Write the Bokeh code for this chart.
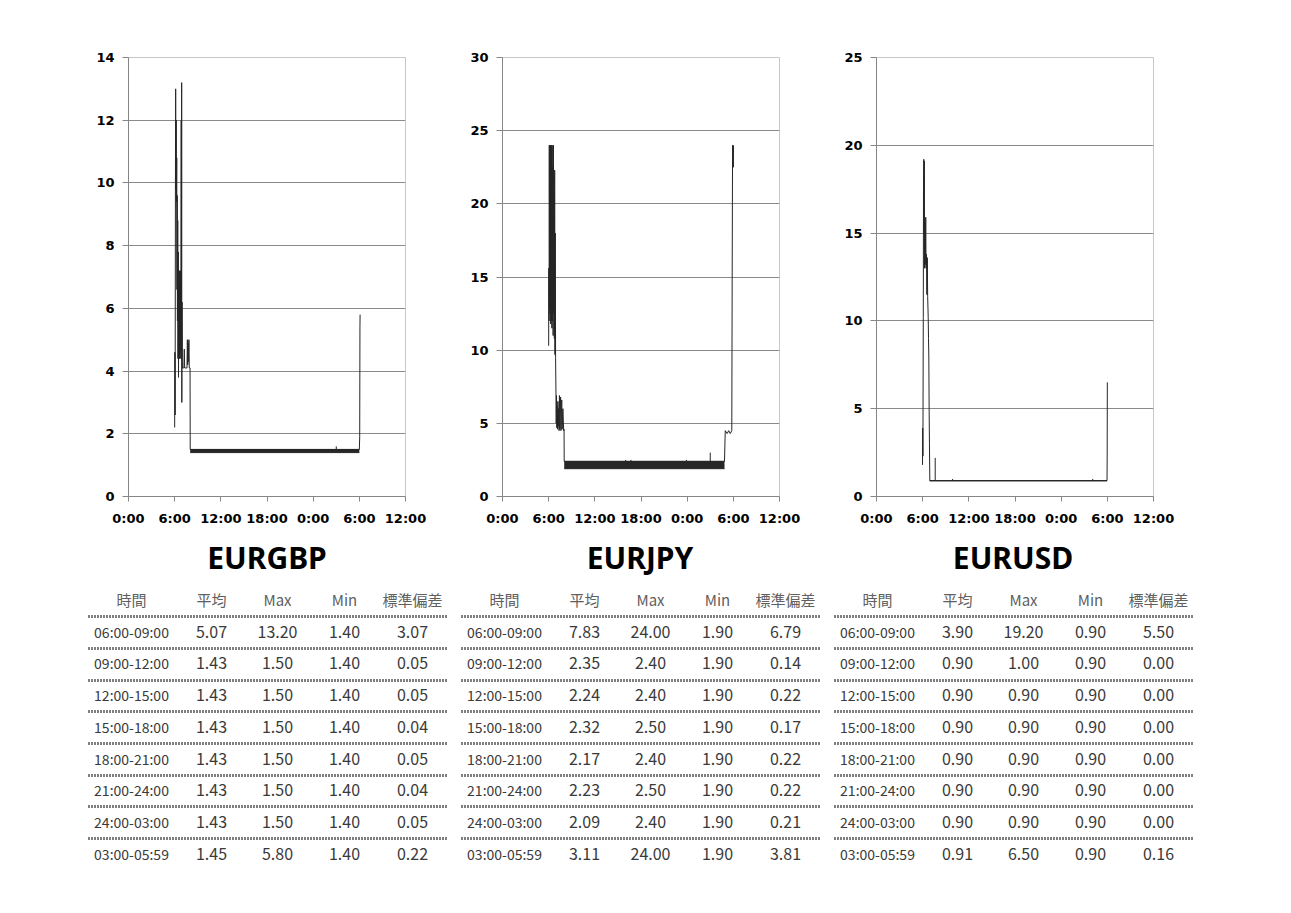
from bokeh.plotting import figure
from bokeh.layouts import column, row
from bokeh.models import Range1d, FixedTicker
from bokeh.core.properties import value
from bokeh.embed import file_html
from bokeh.resources import INLINE

# ---------------- data ----------------
pairs = ["EURGBP", "EURJPY", "EURUSD"]
x_tick_hours = [0, 6, 12, 18, 24, 30, 36]
x_tick_labels = ["0:00", "6:00", "12:00", "18:00", "0:00", "6:00", "12:00"]

gbp_ymax = 14
gbp_yticks = [0, 2, 4, 6, 8, 10, 12, 14]
gbp_t = [6.00, 6.03, 6.06, 6.10, 6.13, 6.16, 6.20, 6.23, 6.27, 6.30,
         6.33, 6.36, 6.40, 6.43, 6.47, 6.50, 6.53, 6.57, 6.60, 6.63,
         6.67, 6.70, 6.75, 6.80, 6.85, 6.88, 6.91, 6.93, 6.96, 7.00,
         7.20, 7.25, 7.30, 7.60, 7.65, 7.70, 7.75, 7.80, 7.85, 7.90,
         8.00, 8.02, 30.00, 30.05, 30.08, 30.10]
gbp_v = [2.2, 4.6, 2.6, 10.0, 13.0, 9.8, 12.0, 9.4, 10.8, 6.6,
         9.6, 5.6, 8.8, 4.4, 7.8, 3.8, 7.2, 4.4, 7.2, 4.4,
         6.8, 4.6, 7.2, 4.4, 12.0, 4.4, 13.2, 3.0, 6.2, 4.1,
         4.1, 4.7, 4.1, 4.1, 5.0, 4.2, 4.9, 4.3, 5.0, 4.1,
         4.1, 1.5, 1.5, 1.9, 5.4, 5.8]
gbp_band_t = [8.02, 30.00]
gbp_band_lo = [1.4, 1.4]
gbp_band_hi = [1.5, 1.5]
gbp_spike_t = [27.0]
gbp_spike_v = [1.6]

jpy_ymax = 30
jpy_yticks = [0, 5, 10, 15, 20, 25, 30]
jpy_t = [6.00, 6.02, 6.05, 6.08, 6.12, 6.15, 6.18, 6.22, 6.26, 6.30,
         6.34, 6.38, 6.42, 6.46, 6.50, 6.54, 6.58, 6.62, 6.66, 6.70,
         6.74, 6.78, 6.82, 6.86, 6.90, 6.95, 6.98, 7.02, 7.06, 7.10,
         7.15, 7.20, 7.25, 7.30, 7.35, 7.40, 7.45, 7.55, 7.60, 7.70,
         7.75, 7.85, 7.95, 8.00, 8.02, 28.85, 28.95, 29.20, 29.40, 29.60,
         29.80, 29.85, 29.90, 30.00, 30.03]
jpy_v = [10.3, 15.6, 12.0, 24.0, 13.0, 24.0, 12.5, 24.0, 11.8, 24.0,
         12.0, 24.0, 11.5, 22.5, 12.0, 24.0, 11.0, 24.0, 12.5, 20.5,
         10.8, 22.3, 9.7, 18.0, 9.5, 7.0, 5.0, 6.9, 4.7, 6.2,
         4.6, 6.5, 4.8, 6.0, 4.5, 6.9, 4.6, 6.8, 4.5, 6.6,
         4.6, 6.0, 4.5, 4.6, 2.4, 2.4, 4.5, 4.3, 4.5, 4.3,
         4.5, 15.0, 24.0, 22.5, 24.0]
jpy_band_t = [8.02, 28.85]
jpy_band_lo = [1.9, 1.9]
jpy_band_hi = [2.4, 2.4]
jpy_spike_t = [16.0, 16.7, 23.9, 27.0]
jpy_spike_v = [2.5, 2.5, 2.5, 3.0]

usd_ymax = 25
usd_yticks = [0, 5, 10, 15, 20, 25]
usd_t = [5.98, 6.00, 6.03, 6.08, 6.11, 6.15, 6.18, 6.21, 6.24, 6.30,
         6.34, 6.40, 6.44, 6.50, 6.55, 6.60, 6.65, 6.72, 6.76, 6.80,
         6.84, 6.88, 6.93, 29.96, 29.98, 30.00]
usd_v = [1.8, 3.9, 2.3, 10.2, 17.7, 19.2, 15.0, 19.1, 13.0, 15.6,
         13.2, 15.9, 13.0, 13.8, 11.5, 13.6, 11.4, 10.2, 9.0, 8.0,
         5.0, 3.0, 0.9, 0.9, 2.3, 6.5]
usd_band_t = [6.93, 29.96]
usd_band_lo = [0.9, 0.9]
usd_band_hi = [0.9, 0.9]
usd_spike_t = [7.63, 9.89, 28.1]
usd_spike_v = [2.2, 1.0, 1.0]

table_headers = ["時間", "平均", "Max", "Min", "標準偏差"]
periods = ["06:00-09:00", "09:00-12:00", "12:00-15:00", "15:00-18:00",
           "18:00-21:00", "21:00-24:00", "24:00-03:00", "03:00-05:59"]
gbp_avg = [5.07, 1.43, 1.43, 1.43, 1.43, 1.43, 1.43, 1.45]
gbp_max = [13.20, 1.50, 1.50, 1.50, 1.50, 1.50, 1.50, 5.80]
gbp_min = [1.40, 1.40, 1.40, 1.40, 1.40, 1.40, 1.40, 1.40]
gbp_std = [3.07, 0.05, 0.05, 0.04, 0.05, 0.04, 0.05, 0.22]
jpy_avg = [7.83, 2.35, 2.24, 2.32, 2.17, 2.23, 2.09, 3.11]
jpy_max = [24.00, 2.40, 2.40, 2.50, 2.40, 2.50, 2.40, 24.00]
jpy_min = [1.90, 1.90, 1.90, 1.90, 1.90, 1.90, 1.90, 1.90]
jpy_std = [6.79, 0.14, 0.22, 0.17, 0.22, 0.22, 0.21, 3.81]
usd_avg = [3.90, 0.90, 0.90, 0.90, 0.90, 0.90, 0.90, 0.91]
usd_max = [19.20, 1.00, 0.90, 0.90, 0.90, 0.90, 0.90, 6.50]
usd_min = [0.90, 0.90, 0.90, 0.90, 0.90, 0.90, 0.90, 0.90]
usd_std = [5.50, 0.00, 0.00, 0.00, 0.00, 0.00, 0.00, 0.16]

# ---------------- style ----------------
LINE = "#262626"
AXIS = "#868686"
GRID = "#8a8a8a"
BORDER = "#c8c8c8"
TICK_FONT = "DejaVu Sans"
JP_FONT = "Noto Sans CJK JP"


def chart(t, v, band_t, band_lo, band_hi, spike_t, spike_v, ymax, yticks,
          width, left, right):
    p = figure(width=width, height=535, output_backend="svg",
               toolbar_location=None, x_range=Range1d(0, 36),
               y_range=Range1d(0, ymax),
               min_border_left=left, min_border_right=right,
               min_border_top=57, min_border_bottom=39)
    p.outline_line_color = BORDER
    p.background_fill_color = "white"
    p.xgrid.grid_line_color = None
    p.ygrid.ticker = FixedTicker(ticks=yticks[1:-1])
    p.ygrid.grid_line_color = GRID
    p.ygrid.grid_line_width = 1

    p.xaxis.ticker = FixedTicker(ticks=x_tick_hours)
    p.xaxis.major_label_overrides = {h: lab for h, lab in zip(x_tick_hours, x_tick_labels)}
    p.yaxis.ticker = FixedTicker(ticks=yticks)
    for ax in (p.xaxis[0], p.yaxis[0]):
        ax.axis_line_color = AXIS
        ax.major_tick_line_color = AXIS
        ax.major_tick_in = 0
        ax.minor_tick_line_color = None
        ax.major_label_text_font = TICK_FONT
        ax.major_label_text_font_style = "bold"
        ax.major_label_text_font_size = "13px"
        ax.major_label_text_color = "#000000"
    p.xaxis.major_tick_out = 5
    p.xaxis.major_label_standoff = 9
    p.yaxis.major_tick_out = 6
    p.yaxis.major_label_standoff = 8

    p.varea(x=band_t, y1=band_lo, y2=band_hi, fill_color=LINE)
    p.line(band_t, band_lo, line_color=LINE, line_width=1)
    p.line(band_t, band_hi, line_color=LINE, line_width=1)
    p.segment(x0=spike_t, y0=[band_hi[0]] * len(spike_t), x1=spike_t, y1=spike_v,
              line_color=LINE, line_width=1)
    p.line(t, v, line_color=LINE, line_width=1)
    return p


f1 = chart(gbp_t, gbp_v, gbp_band_t, gbp_band_lo, gbp_band_hi, gbp_spike_t, gbp_spike_v,
           gbp_ymax, gbp_yticks, 440, 128, 35)
f2 = chart(jpy_t, jpy_v, jpy_band_t, jpy_band_lo, jpy_band_hi, jpy_spike_t, jpy_spike_v,
           jpy_ymax, jpy_yticks, 374, 62, 35)
f3 = chart(usd_t, usd_v, usd_band_t, usd_band_lo, usd_band_hi, usd_spike_t, usd_spike_v,
           usd_ymax, usd_yticks, 374, 62, 35)

# ---------------- tables (page pixel coordinates) ----------------
tb = figure(width=1283, height=360, output_backend="svg", toolbar_location=None,
            x_range=Range1d(0, 1283), y_range=Range1d(895, 535),
            x_axis_type=None, y_axis_type=None,
            min_border=0, min_border_left=0, min_border_right=0,
            min_border_top=0, min_border_bottom=0)
tb.outline_line_color = None
tb.xgrid.grid_line_color = None
tb.ygrid.grid_line_color = None

table_base_x = [131, 504, 877]
col_offsets = [0, 80, 146, 213, 281]
header_y = 599
row_y0 = 631
row_gap = 31.75
sep_y0 = 616
title_y = 557

stats = [(gbp_avg, gbp_max, gbp_min, gbp_std),
         (jpy_avg, jpy_max, jpy_min, jpy_std),
         (usd_avg, usd_max, usd_min, usd_std)]

title_x = [bx + 135.5 for bx in table_base_x]
tb.text(x=title_x, y=[title_y] * 3, text=pairs, text_font=value("Noto Sans"),
        text_font_style="bold", text_font_size="30px", text_align="center",
        text_baseline="alphabetic", text_color="#000000")

hx, hy, ht = [], [], []
px, py, pt = [], [], []
nx, ny, nt = [], [], []
sx0, sx1, sy = [], [], []
for bx, cols in zip(table_base_x, stats):
    for off, h in zip(col_offsets, table_headers):
        hx.append(bx + off); hy.append(header_y); ht.append(h)
    for i, per in enumerate(periods):
        y = row_y0 + row_gap * i
        px.append(bx); py.append(y); pt.append(per)
        for off, col in zip(col_offsets[1:], cols):
            nx.append(bx + off); ny.append(y); nt.append("%.2f" % col[i])
    for i in range(len(periods)):
        sx0.append(bx - 43); sx1.append(bx + 315); sy.append(round(sep_y0 + row_gap * i))

tb.segment(x0=sx0, y0=sy, x1=sx1, y1=sy, line_color="#000000", line_width=3,
           line_dash="1 2")
tb.text(x=hx, y=hy, text=ht, text_font=value(JP_FONT), text_font_size="15px",
        text_align="center", text_baseline="alphabetic", text_color="#606060")
tb.text(x=px, y=py, text=pt, text_font=value(JP_FONT), text_font_size="14px",
        text_align="center", text_baseline="alphabetic", text_color="#3a3a3a")
tb.text(x=nx, y=ny, text=nt, text_font=value(JP_FONT), text_font_size="16px",
        text_align="center", text_baseline="alphabetic", text_color="#3a3a3a")

layout = column(row(f1, f2, f3), tb)

open("out.html", "w").write(file_html(layout, INLINE))
